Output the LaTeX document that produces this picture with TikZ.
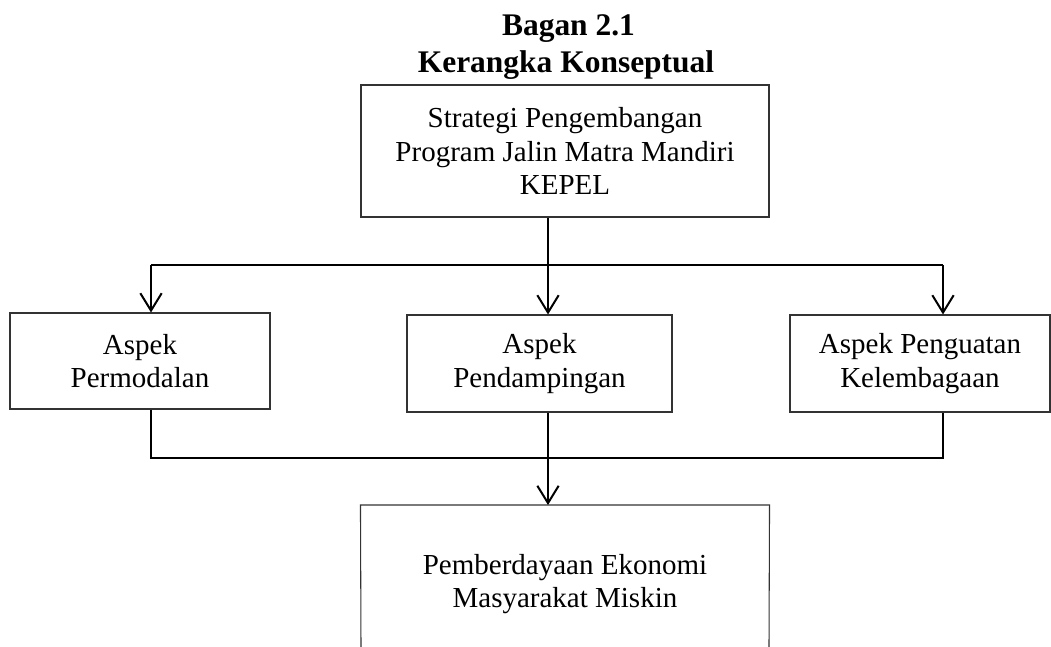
\documentclass[tikz,border=0pt]{standalone}
\usepackage{fontspec}
\setmainfont{Liberation Serif}
\usetikzlibrary{arrows.meta}
\begin{document}
\begin{tikzpicture}[x=0.75pt,y=-0.75pt,
  box/.style={draw=black!80,line width=0.8pt,inner sep=0pt,align=center,
    font=\fontsize{21.75pt}{25pt}\selectfont},
  conn/.style={line width=1.5pt,black},
  arr/.style={conn,-{Straight Barb[length=13pt,width=16pt]}},
  ttl/.style={font=\fontsize{23.6pt}{28pt}\selectfont\bfseries,anchor=base,inner sep=0pt}]
\useasboundingbox (0,0) rectangle (1051,647);
\node[ttl] (t1) at (568.5,35) {Bagan 2.1};
\node[ttl] (t2) at (566,72) {Kerangka Konseptual};
\node[box,minimum width=306pt,minimum height=99pt] (top) at (565,151)
  {Strategi Pengembangan\\Program Jalin Matra Mandiri\\KEPEL};
\node[box,minimum width=195pt,minimum height=72pt] (left) at (140,361)
  {Aspek\\Permodalan};
\node[box,minimum width=198.75pt,minimum height=72.75pt] (mid) at (539.5,363.5)
  {Aspek\\Pendampingan};
\node[box,minimum width=195pt,minimum height=72.75pt] (right) at (920,363.5)
  {Aspek Penguatan\\Kelembagaan};
\node[box,draw=none,minimum width=306pt,minimum height=118pt,anchor=north] (bot) at (565,505)
  {Pemberdayaan Ekonomi\\Masyarakat Miskin};
\coordinate (bl) at (361,647);
\coordinate (br) at (769,647);
\draw[draw=black!80,line width=0.8pt] (bl) -- (bot.north west) -- (bot.north east) -- (br);
% upper connectors
\coordinate (j1) at (548,265);
\coordinate (hl) at (151,265);
\coordinate (hr) at (943,265);
\draw[conn] (top.south -| j1) -- (j1);
\draw[conn] (hl) -- (hr);
\draw[arr] (hl) -- (left.north -| hl);
\draw[arr] (j1) -- (mid.north -| j1);
\draw[arr] (hr) -- (right.north -| hr);
% lower connectors
\coordinate (j2) at (548,458);
\coordinate (bl2) at (151,458);
\coordinate (br2) at (943,458);
\draw[conn] (left.south -| bl2) -- (bl2) -- (br2) -- (right.south -| br2);
\draw[conn] (mid.south -| j2) -- (j2);
\draw[arr] (j2) -- (bot.north -| j2);
\end{tikzpicture}
\end{document}
